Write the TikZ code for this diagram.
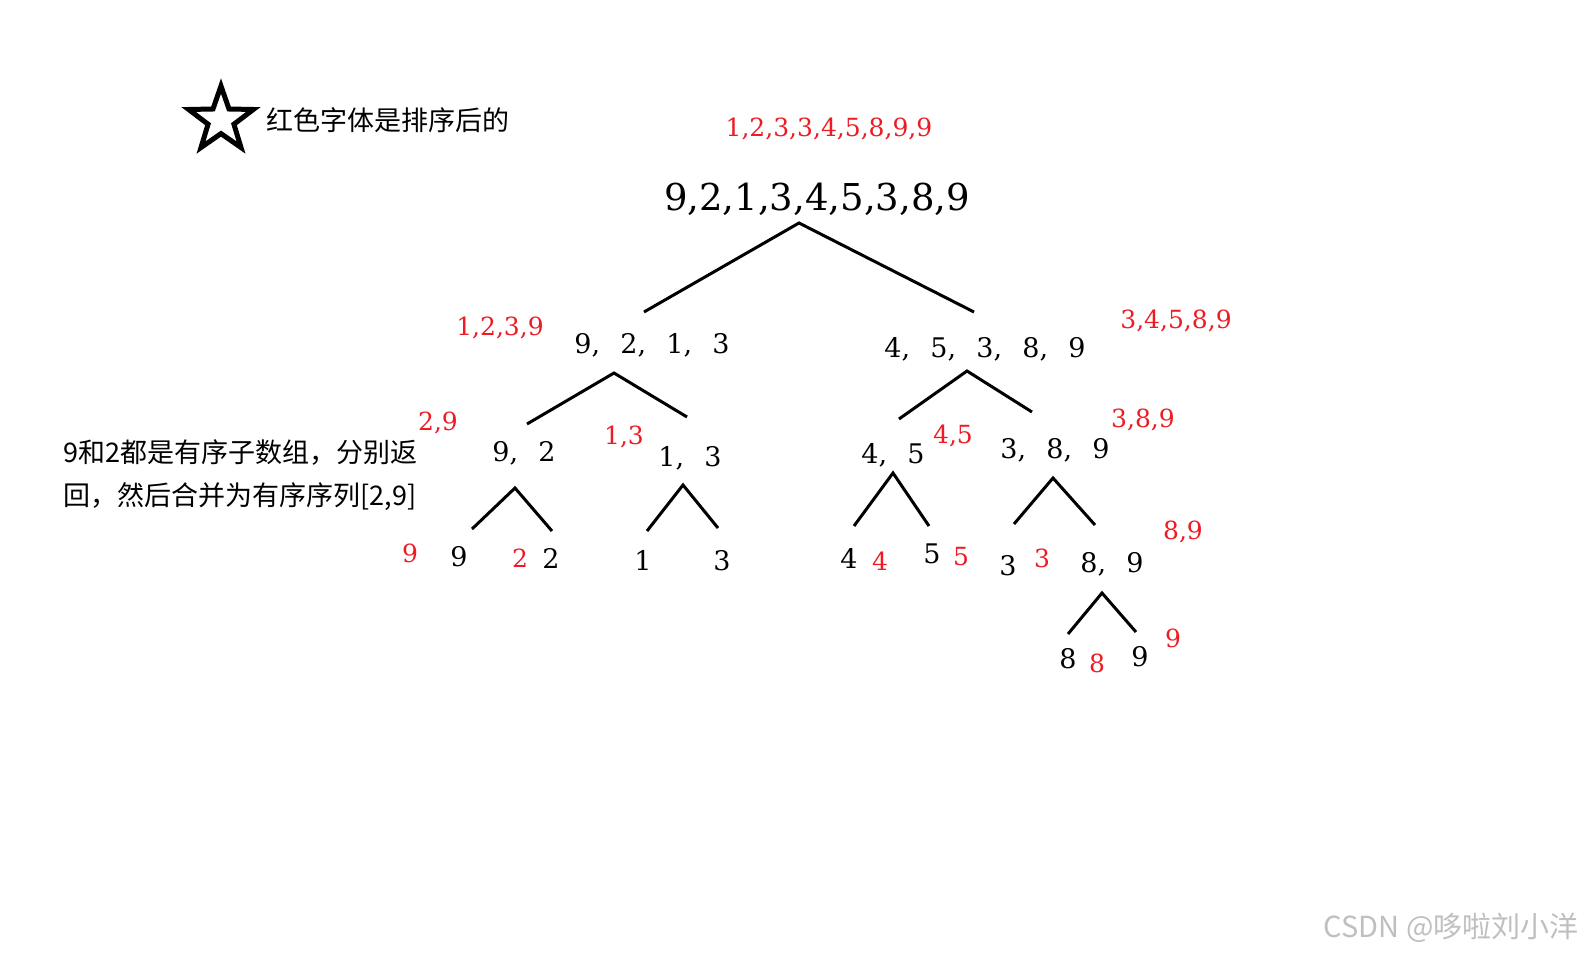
\documentclass[tikz,border=0pt]{standalone}
\usepackage{fontspec}
\setmainfont{DejaVu Serif}
\newfontfamily\cjk{Noto Sans CJK SC}
\usetikzlibrary{shapes.geometric}
\definecolor{sortred}{RGB}{237,28,36}
\newcommand\sepx{,\hspace{.75em}}

\begin{document}
\begin{tikzpicture}[x=1pt,y=-1pt,line width=3pt,
  every node/.style={inner sep=0pt,anchor=base},
  big/.style={font=\fontsize{37}{40}\selectfont},
  seq/.style={font=\fontsize{27}{30}\selectfont},
  sorted/.style={text=sortred,font=\fontsize{25}{28}\selectfont},
  note/.style={font=\cjk\fontsize{27}{30}\selectfont,anchor=base west}]
\useasboundingbox (0,0) rectangle (1588,953);
% legend
\node[star,star points=5,star point ratio=2.5,draw,line width=5pt,
  minimum size=68pt,anchor=center] (mark) at (221,120) {};
\node[note] (legend) at (265,130) {红色字体是排序后的};
\node[note] (hint1) at (62,462) {9和2都是有序子数组，分别返};
\node[note] (hint2) at (62,505) {回，然后合并为有序序列[2,9]};
% level 0
\node[big] (root) at (817,210) {9,2,1,3,4,5,3,8,9};
\node[sorted] (rootS) at (829,136) {1,2,3,3,4,5,8,9,9};
% level 1
\node[seq] (l) at (652,353) {9\sepx 2\sepx 1\sepx 3};
\node[sorted] (lS) at (500,335) {1,2,3,9};
\node[seq] (r) at (985,357) {4\sepx 5\sepx 3\sepx 8\sepx 9};
\node[sorted] (rS) at (1176,328) {3,4,5,8,9};
% level 2
\node[seq] (ll) at (524,461) {9\sepx 2};
\node[sorted] (llS) at (438,430) {2,9};
\node[seq] (lr) at (690,466) {1\sepx 3};
\node[sorted] (lrS) at (624,444) {1,3};
\node[seq] (rl) at (893,463) {4\sepx 5};
\node[sorted] (rlS) at (953,443) {4,5};
\node[seq] (rr) at (1055,458) {3\sepx 8\sepx 9};
\node[sorted] (rrS) at (1143,427) {3,8,9};
% level 3
\node[sorted] (lllS) at (410,562) {9};
\node[seq] (lll) at (459,566) {9};
\node[sorted] (llrS) at (520,567) {2};
\node[seq] (llr) at (551,568) {2};
\node[seq] (lrl) at (643,570) {1};
\node[seq] (lrr) at (722,570) {3};
\node[seq] (rll) at (849,568) {4};
\node[sorted] (rllS) at (880,570) {4};
\node[seq] (rlr) at (932,563) {5};
\node[sorted] (rlrS) at (961,565) {5};
\node[seq] (rrl) at (1008,575) {3};
\node[sorted] (rrlS) at (1042,567) {3};
\node[seq] (rrr) at (1112,572) {8\sepx 9};
\node[sorted] (rrrS) at (1183,539) {8,9};
% level 4
\node[seq] (rrrl) at (1068,668) {8};
\node[sorted] (rrrlS) at (1097,672) {8};
\node[seq] (rrrr) at (1140,666) {9};
\node[sorted] (rrrrS) at (1173,647) {9};
% branch points
\coordinate (root-v) at (799,223);
\coordinate (l-t) at (644,312);  \coordinate (r-t) at (974,312);
\coordinate (l-v) at (614,373);
\coordinate (ll-t) at (527,424); \coordinate (lr-t) at (687,417);
\coordinate (r-v) at (967,371);
\coordinate (rl-t) at (899,419); \coordinate (rr-t) at (1032,412);
\coordinate (ll-v) at (515,488);
\coordinate (lll-t) at (472,529); \coordinate (llr-t) at (552,531);
\coordinate (lr-v) at (683,485);
\coordinate (lrl-t) at (647,531); \coordinate (lrr-t) at (718,528);
\coordinate (rl-v) at (893,473);
\coordinate (rll-t) at (854,526); \coordinate (rlr-t) at (929,526);
\coordinate (rr-v) at (1053,478);
\coordinate (rrl-t) at (1014,524); \coordinate (rrr-t) at (1095,525);
\coordinate (rrr-v) at (1102,593);
\coordinate (rrrl-t) at (1068,634); \coordinate (rrrr-t) at (1136,632);
\foreach \v/\a/\b in {root/l/r,l/ll/lr,r/rl/rr,ll/lll/llr,lr/lrl/lrr,
  rl/rll/rlr,rr/rrl/rrr,rrr/rrrl/rrrr}
  \draw (\a-t) -- (\v-v) -- (\b-t);
% watermark
\node[font=\cjk\fontsize{29}{30}\selectfont,text=black!25,anchor=base east]
  (wm) at (1580,937) {CSDN @哆啦刘小洋};
\end{tikzpicture}
\end{document}
